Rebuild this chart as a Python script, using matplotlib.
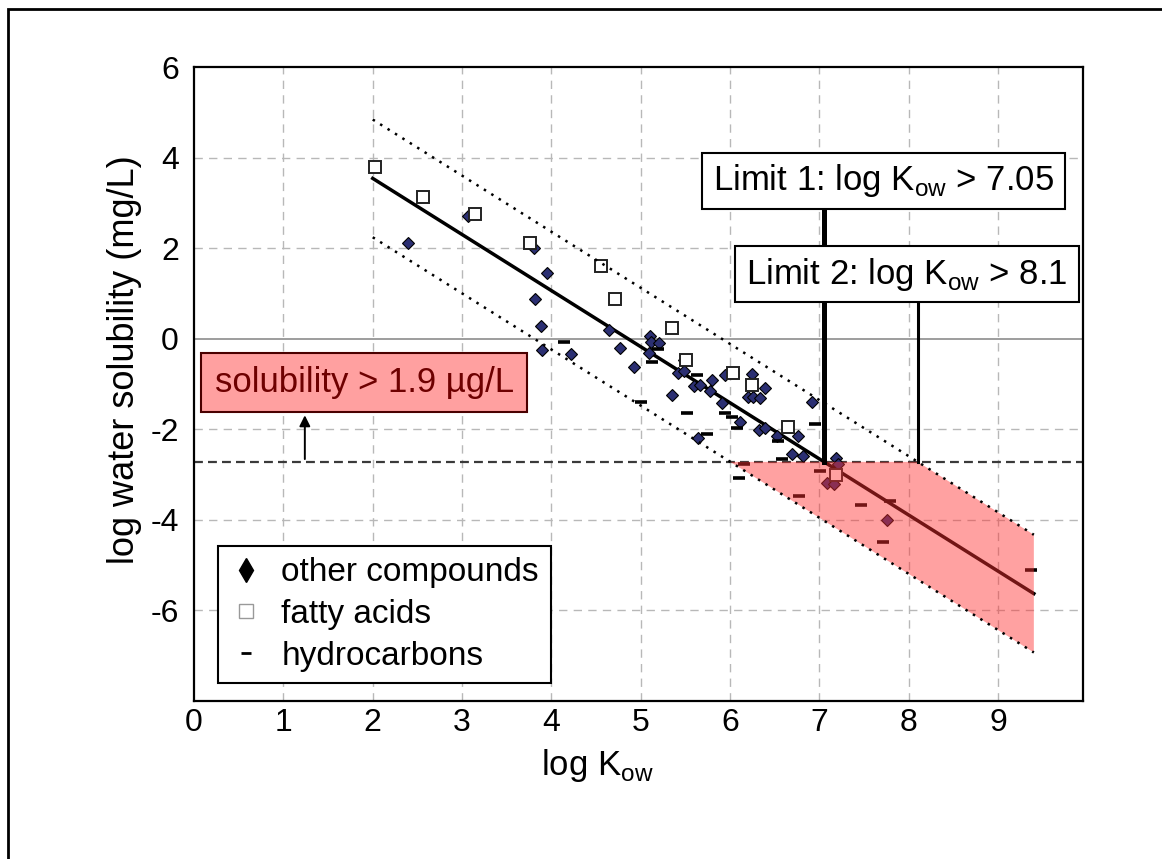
import numpy as np
import matplotlib
matplotlib.use("Agg")
import matplotlib.pyplot as plt
from matplotlib.patches import Rectangle, Polygon
from matplotlib.lines import Line2D

plt.rcParams['font.family'] = ['Liberation Sans', 'DejaVu Sans']
plt.rcParams['axes.unicode_minus'] = False

# other compounds (diamonds)
other_x = [2.40, 3.07, 3.80, 3.95, 3.82, 3.88, 3.90, 4.22, 4.64, 4.77, 4.93, 5.10, 5.12, 5.20,
           5.09, 5.48, 5.42, 5.48, 5.35, 5.60, 5.66, 5.64, 5.80, 5.78, 5.94, 5.91, 6.11, 6.24,
           6.20, 6.26, 6.33, 6.39, 6.32, 6.39, 6.53, 6.76, 6.69, 6.82, 6.92, 7.19, 7.21, 7.08,
           7.16, 7.76]
other_y = [2.12, 2.72, 2.00, 1.46, 0.87, 0.29, -0.25, -0.34, 0.19, -0.21, -0.63, 0.07, -0.08, -0.10,
           -0.32, -0.46, -0.76, -0.71, -1.25, -1.05, -1.03, -2.20, -0.91, -1.15, -0.81, -1.42, -1.85, -0.77,
           -1.29, -1.29, -1.32, -1.09, -2.02, -1.97, -2.16, -2.16, -2.55, -2.60, -1.40, -2.64, -2.77, -3.19,
           -3.21, -4.00]

# fatty acids (open squares)
fatty_x = [2.02, 2.56, 3.14, 3.76, 4.56, 4.71, 5.35, 5.51, 6.03, 6.24, 6.65, 7.19]
fatty_y = [3.80, 3.14, 2.75, 2.12, 1.60, 0.87, 0.24, -0.46, -0.76, -1.02, -1.95, -3.00]

# hydrocarbons (dashes)
hydro_x = [4.14, 5.00, 5.19, 5.13, 5.63, 5.52, 5.74, 5.94, 6.02, 6.08, 6.16, 6.10, 6.77,
           6.54, 6.58, 6.95, 7.01, 7.47, 7.79, 7.71, 9.37]
hydro_y = [-0.08, -1.40, -0.23, -0.52, -0.81, -1.65, -2.11, -1.65, -1.72, -1.98, -2.77, -3.08, -3.47,
           -2.26, -2.65, -1.89, -2.93, -3.68, -3.59, -4.49, -5.10]

# regression line end points and band half-width
fit_x = [2.0, 9.4]
fit_y = [3.54, -5.63]
band = 1.3

sol_limit = -2.72      # log(1.9 ug/L in mg/L)
limit1 = 7.05
limit2 = 8.1

fig = plt.figure(figsize=(11.62, 8.59), dpi=100)
ax = fig.add_axes([0.167, 0.184, 0.932 - 0.167, 0.922 - 0.184])
ax.set_xlim(0, 9.95)
ax.set_ylim(-8, 6)
ax.set_xticks(range(0, 10))
ax.set_yticks([-6, -4, -2, 0, 2, 4, 6])
ax.tick_params(length=0, labelsize=23)
ax.tick_params(axis='x', pad=5)
ax.tick_params(axis='y', pad=11)
for s in ax.spines.values():
    s.set_linewidth(1.6)

for xv in range(1, 10):
    ax.axvline(xv, color='#b8b8b8', lw=1, ls=(0, (6, 4.5)), zorder=0)
for yv in [-6, -4, -2, 2, 4]:
    ax.axhline(yv, color='#b8b8b8', lw=1, ls=(0, (6, 4.5)), zorder=0)
ax.axhline(0, color='#8c8c8c', lw=1.2, zorder=0)

# regression line and dotted band
ax.plot(fit_x, fit_y, color='black', lw=2.5, zorder=3)
ax.plot(fit_x, [v + band for v in fit_y], color='black', lw=1.8, ls=(0, (1, 2.5)), zorder=5)
ax.plot(fit_x, [v - band for v in fit_y], color='black', lw=1.8, ls=(0, (1, 2.5)), zorder=5)

ax.axhline(sol_limit, color='#3a3a3a', lw=1.6, ls=(0, (4, 2.3)), zorder=2)

ax.plot(other_x, other_y, 'D', ms=6, mfc='#2b2f72', mec='black', mew=0.8, ls='none', zorder=4)
ax.plot(fatty_x, fatty_y, 's', ms=8, mfc='white', mec='#222222', mew=1.4, ls='none', zorder=4)
ax.plot(hydro_x, hydro_y, '_', ms=9, mec='black', mew=2.6, ls='none', zorder=4)

# red region: below solubility limit, inside band
slope = (fit_y[1] - fit_y[0]) / (fit_x[1] - fit_x[0])
icpt = fit_y[0] - slope * fit_x[0]
x_lo = (sol_limit - icpt + band) / slope
poly = [(x_lo, sol_limit), (limit2, sol_limit),
        (fit_x[1], fit_y[1] + band), (fit_x[1], fit_y[1] - band)]
ax.add_patch(Polygon(poly, closed=True, facecolor='#ff3030', alpha=0.45, lw=0, zorder=4.5))

# limit lines and boxes
ax.plot([limit1, limit1], [sol_limit, 2.86], color='black', lw=3.6, zorder=6)
ax.plot([limit2, limit2], [sol_limit, 0.80], color='black', lw=2.2, zorder=6)
ax.add_patch(Rectangle((5.69, 2.86), 9.75 - 5.69, 4.11 - 2.86, facecolor='white',
                       edgecolor='black', lw=1.5, zorder=7))
ax.text((5.69 + 9.75) / 2, (2.86 + 4.11) / 2, r'Limit 1: log K$_\mathregular{ow}$ > 7.05',
        ha='center', va='center', fontsize=25, zorder=8)
ax.add_patch(Rectangle((6.05, 0.80), 9.90 - 6.05, 2.05 - 0.80, facecolor='white',
                       edgecolor='black', lw=1.5, zorder=7))
ax.text((6.05 + 9.90) / 2, (0.80 + 2.05) / 2, r'Limit 2: log K$_\mathregular{ow}$ > 8.1',
        ha='center', va='center', fontsize=25, zorder=8)

# solubility box and arrow
ax.add_patch(Rectangle((0.08, -1.61), 3.73 - 0.08, 1.29, facecolor='#ffa0a0',
                       edgecolor='#4a0000', lw=1.5, zorder=7))
ax.text((0.08 + 3.73) / 2, -0.97, 'solubility > 1.9 µg/L', ha='center', va='center',
        fontsize=25, color='#6e0000', zorder=8)
ax.annotate('', xy=(1.24, -1.63), xytext=(1.24, sol_limit),
            arrowprops=dict(arrowstyle='-|>', color='black', lw=1.4, mutation_scale=16), zorder=8)

handles = [
    Line2D([], [], marker='d', ms=12, color='black', ls='none'),
    Line2D([], [], marker='s', ms=10, mfc='white', mec='#999999', mew=1, ls='none'),
    Line2D([], [], marker='_', ms=7, mec='black', mew=2, ls='none'),
]
leg = ax.legend(handles, ['other compounds', 'fatty acids', 'hydrocarbons'],
                loc='lower left', bbox_to_anchor=(0.027, 0.028), borderaxespad=0,
                fontsize=24, frameon=True, fancybox=False, framealpha=1,
                edgecolor='black', labelspacing=0.32, handletextpad=0.55,
                borderpad=0.35, handlelength=1.0)
leg.get_frame().set_linewidth(1.5)
leg.set_zorder(9)

fig.text(125 / 1162, 1 - 360 / 859, 'log water solubility (mg/L)', rotation=90,
         ha='center', va='center', fontsize=26)
fig.text(597 / 1162, 1 - 765 / 859, r'log K$_\mathregular{ow}$', ha='center', va='center',
         fontsize=25)

fig.add_artist(Rectangle((0.007, -0.05), 1.1, 1.04, transform=fig.transFigure,
                         fill=False, edgecolor='black', lw=2))

fig.savefig('out.png', dpi=100)
